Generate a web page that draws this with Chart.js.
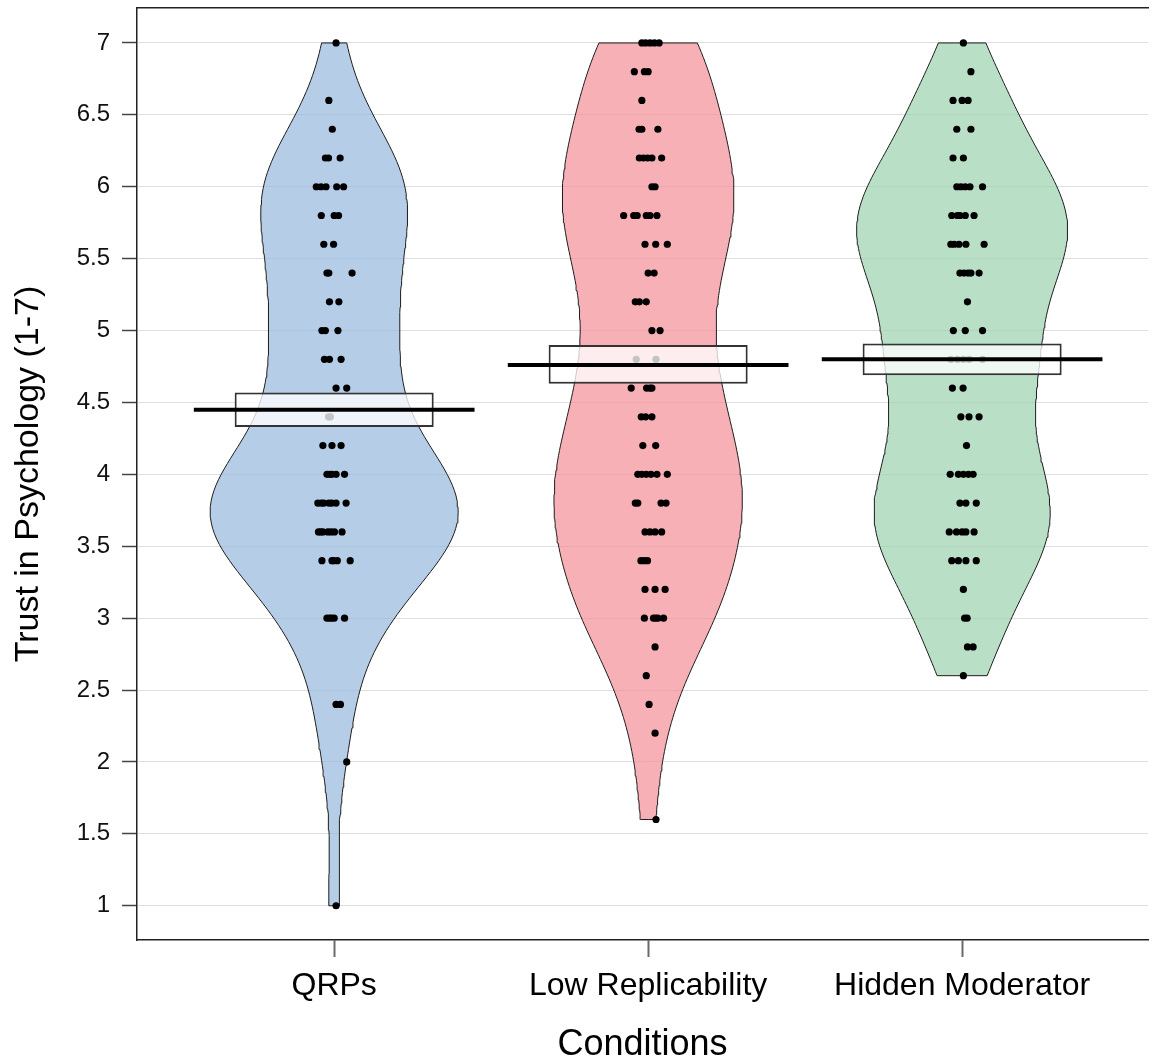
<!DOCTYPE html>
<html>
<head>
<meta charset="utf-8">
<title>Trust in Psychology by Condition</title>
<script src="https://cdn.jsdelivr.net/npm/chart.js@4.4.1/dist/chart.umd.min.js"></script>
<style>
  html, body { margin: 0; padding: 0; background: #ffffff; }
  #c { display: block; }
</style>
</head>
<body>
<canvas id="c" width="1152" height="1061"></canvas>
<script>
// ---- Data -------------------------------------------------------------
const categories = ['QRPs', 'Low Replicability', 'Hidden Moderator'];
const yTickValues = [1, 1.5, 2, 2.5, 3, 3.5, 4, 4.5, 5, 5.5, 6, 6.5, 7];

// Individual trust scores per condition (1-7 scale, steps of 0.2)
const qrpsScores = [
  7.0, 6.6, 6.4, 6.2, 6.2, 6.2, 6.0, 6.0, 6.0, 6.0, 6.0,
  5.8, 5.8, 5.8, 5.6, 5.6, 5.4, 5.4, 5.4, 5.2, 5.2, 5.0, 5.0, 5.0,
  4.8, 4.8, 4.8, 4.6, 4.6, 4.4, 4.4, 4.2, 4.2, 4.2,
  4.0, 4.0, 4.0, 4.0, 4.0,
  3.8, 3.8, 3.8, 3.8, 3.8, 3.8, 3.8,
  3.6, 3.6, 3.6, 3.6, 3.6, 3.6, 3.6,
  3.4, 3.4, 3.4, 3.4, 3.4, 3.0, 3.0, 3.0, 3.0, 3.0, 2.4, 2.4, 2.0, 1.0
];
// Horizontal jitter of each point (x units from the condition centre)
const qrpsJitter = [
  0.006, -0.017, -0.006, -0.028, -0.018, 0.019, -0.057, -0.042, -0.026, 0.008, 0.030,
  -0.041, 0.000, 0.014, -0.033, -0.002, -0.023, -0.017, 0.057, -0.015, 0.015, -0.039, -0.028, 0.012,
  -0.031, -0.015, 0.022, 0.006, 0.040, -0.018, -0.012, -0.036, -0.007, 0.022,
  -0.023, -0.014, -0.007, 0.006, 0.033,
  -0.052, -0.041, -0.033, -0.017, -0.008, 0.006, 0.038,
  -0.050, -0.043, -0.036, -0.020, -0.010, 0.001, 0.025,
  -0.039, -0.007, -0.002, 0.010, 0.051, -0.023, -0.015, -0.008, 0.000, 0.033, 0.006, 0.020, 0.040, 0.006
];

const lowRepScores = [
  7.0, 7.0, 7.0, 7.0, 7.0, 6.8, 6.8, 6.8, 6.6, 6.4, 6.4, 6.4,
  6.2, 6.2, 6.2, 6.2, 6.2, 6.0, 6.0,
  5.8, 5.8, 5.8, 5.8, 5.8, 5.8, 5.6, 5.6, 5.6, 5.4, 5.4, 5.2, 5.2, 5.2, 5.0, 5.0,
  4.8, 4.8, 4.6, 4.6, 4.6, 4.6, 4.4, 4.4, 4.4, 4.2, 4.2,
  4.0, 4.0, 4.0, 4.0, 4.0, 4.0, 3.8, 3.8, 3.8, 3.8, 3.6, 3.6, 3.6, 3.6,
  3.4, 3.4, 3.4, 3.2, 3.2, 3.2, 3.0, 3.0, 3.0, 3.0, 3.0,
  2.8, 2.6, 2.4, 2.2, 1.6
];
const lowRepJitter = [
  -0.020, -0.008, 0.006, 0.020, 0.035, -0.044, -0.012, 0.000, -0.020, -0.029, -0.020, 0.031,
  -0.028, -0.015, -0.002, 0.012, 0.043, 0.012, 0.022,
  -0.078, -0.046, -0.035, -0.006, 0.006, 0.028, -0.010, 0.024, 0.061, 0.000, 0.019, -0.041, -0.028, -0.006, 0.012, 0.038,
  -0.038, 0.025, -0.054, -0.005, 0.006, 0.012, -0.022, -0.008, 0.012, -0.017, 0.024,
  -0.033, -0.020, -0.006, 0.009, 0.028, 0.061, -0.041, -0.033, 0.041, 0.057, -0.010, 0.006, 0.022, 0.043,
  -0.023, -0.012, -0.002, -0.010, 0.022, 0.054, -0.012, 0.017, 0.024, 0.031, 0.049,
  0.022, -0.006, 0.003, 0.022, 0.025
];

const hiddenModScores = [
  7.0, 6.8, 6.6, 6.6, 6.6, 6.4, 6.4, 6.2, 6.2,
  6.0, 6.0, 6.0, 6.0, 6.0, 5.8, 5.8, 5.8, 5.8, 5.8,
  5.6, 5.6, 5.6, 5.6, 5.6, 5.4, 5.4, 5.4, 5.4, 5.4, 5.2, 5.0, 5.0, 5.0,
  4.8, 4.8, 4.8, 4.8, 4.8, 4.6, 4.6, 4.4, 4.4, 4.4, 4.2,
  4.0, 4.0, 4.0, 4.0, 4.0, 3.8, 3.8, 3.8, 3.6, 3.6, 3.6, 3.6, 3.6,
  3.4, 3.4, 3.4, 3.4, 3.2, 3.0, 3.0, 2.8, 2.8, 2.6
];
const hiddenModJitter = [
  0.004, 0.028, -0.029, 0.000, 0.019, -0.017, 0.028, -0.029, 0.004,
  -0.017, -0.004, 0.010, 0.025, 0.065, -0.033, -0.015, -0.007, 0.010, 0.038,
  -0.036, -0.025, -0.010, 0.012, 0.070, -0.007, 0.006, 0.019, 0.028, 0.054, 0.017, -0.028, 0.010, 0.065,
  -0.036, -0.015, 0.004, 0.022, 0.065, -0.031, 0.003, -0.004, 0.022, 0.054, 0.014,
  -0.038, -0.012, 0.004, 0.020, 0.035, -0.007, 0.012, 0.045, -0.041, -0.018, 0.000, 0.012, 0.038,
  -0.033, -0.012, 0.012, 0.045, 0.004, 0.008, 0.016, 0.017, 0.035, 0.004
];

// Condition means and 95% confidence limits
const groupMeans = [4.45, 4.76, 4.80];
const ciLower = [4.33, 4.63, 4.69];
const ciUpper = [4.57, 4.90, 4.91];

// ---- Styling ----------------------------------------------------------
const FONT = "'Liberation Sans', Arial, Helvetica, sans-serif";
const beanFills = ['rgba(151,184,221,0.7)', 'rgba(245,142,152,0.7)', 'rgba(155,211,175,0.7)'];
const WIDTH_MAX = 0.395;   // half-width of the widest bean (x units)
const WIDTH_MIN = 0.30;    // minimum half-width of any bean
const BW_ADJUST = 0.8;     // bandwidth multiplier for the bean densities
const BOX_SHARE = 0.634;   // confidence box width as share of category spacing
const MEAN_HALF = 0.447;   // half-length of the mean line

// ---- Kernel density (Gaussian, bw.nrd0) --------------------------------
function quantile(sorted, p) {
  const h = (sorted.length - 1) * p;
  const lo = Math.floor(h);
  const hi = Math.min(lo + 1, sorted.length - 1);
  return sorted[lo] + (h - lo) * (sorted[hi] - sorted[lo]);
}
function bandwidth(x) {
  const n = x.length;
  const mean = x.reduce((a, b) => a + b, 0) / n;
  const sd = Math.sqrt(x.reduce((a, b) => a + (b - mean) ** 2, 0) / (n - 1));
  const s = [...x].sort((a, b) => a - b);
  const iqr = quantile(s, 0.75) - quantile(s, 0.25);
  const lo = Math.min(sd, iqr / 1.34) || sd || 1;
  return 0.9 * lo * Math.pow(n, -0.2);
}
function density(x, bw, at) {
  const k = 1 / (x.length * bw * Math.sqrt(2 * Math.PI));
  return at.map(y => k * x.reduce((a, v) => a + Math.exp(-0.5 * ((y - v) / bw) ** 2), 0));
}

const groups = [
  { scores: qrpsScores, jitter: qrpsJitter },
  { scores: lowRepScores, jitter: lowRepJitter },
  { scores: hiddenModScores, jitter: hiddenModJitter }
];

const STEPS = 160;
const profiles = groups.map(g => {
  const lo = Math.min(...g.scores);
  const hi = Math.max(...g.scores);
  const ys = [];
  for (let i = 0; i <= STEPS; i++) ys.push(lo + (hi - lo) * i / STEPS);
  return { lo, hi, ys, d: density(g.scores, bandwidth(g.scores) * BW_ADJUST, ys) };
});
const maxDensity = Math.max(...profiles.map(p => Math.max(...p.d)));
profiles.forEach(p => {
  let w = p.d.map(v => v / maxDensity * WIDTH_MAX);
  const m = Math.max(...w);
  if (m < WIDTH_MIN) w = w.map(v => v / m * WIDTH_MIN);
  p.w = w;
});

// ---- Datasets -----------------------------------------------------------
const datasets = [];

profiles.forEach((p, i) => {
  const c = i + 1;
  const side = sign => [{ x: c, y: p.lo }]
    .concat(p.ys.map((y, k) => ({ x: c + sign * p.w[k], y })))
    .concat([{ x: c, y: p.hi }]);
  // left outline of the bean
  datasets.push({
    type: 'line', indexAxis: 'y', data: side(-1),
    borderColor: '#1c1c1c', borderWidth: 1, pointRadius: 0,
    fill: false, tension: 0, order: 5
  });
  // right outline, filled back to the left outline
  datasets.push({
    type: 'line', indexAxis: 'y', data: side(1),
    borderColor: '#1c1c1c', borderWidth: 1, pointRadius: 0,
    fill: '-1', backgroundColor: beanFills[i], tension: 0, order: 6
  });
});

// raw data points
groups.forEach((g, i) => {
  datasets.push({
    type: 'scatter',
    data: g.scores.map((v, k) => ({ x: i + 1 + g.jitter[k], y: v })),
    backgroundColor: '#000000', borderWidth: 0, pointRadius: 3.6,
    order: 3
  });
});

// confidence boxes
datasets.push({
  type: 'bar',
  data: categories.map((_, i) => ({ x: i + 1, y: [ciLower[i], ciUpper[i]] })),
  backgroundColor: 'rgba(255,255,255,0.77)',
  borderColor: '#333333', borderWidth: 2, borderSkipped: false,
  barPercentage: BOX_SHARE, categoryPercentage: 1, grouped: false,
  order: 2
});

// mean lines
groupMeans.forEach((m, i) => {
  datasets.push({
    type: 'line',
    data: [{ x: i + 1 - MEAN_HALF, y: m }, { x: i + 1 + MEAN_HALF, y: m }],
    borderColor: '#000000', borderWidth: 4, pointRadius: 0, fill: false,
    borderCapStyle: 'butt', order: 1
  });
});

// ---- Chart --------------------------------------------------------------
const X_MIN = 0.372, X_MAX = 3.592;

new Chart(document.getElementById('c'), {
  type: 'scatter',
  data: { datasets },
  options: {
    responsive: false,
    animation: false,
    events: [],
    layout: { padding: { top: 8, left: 0, right: 0, bottom: 0 } },
    plugins: {
      legend: { display: false },
      tooltip: { enabled: false },
      filler: { propagate: false }
    },
    scales: {
      x: {
        type: 'linear', position: 'bottom',
        min: X_MIN, max: X_MAX, offset: false,
        afterBuildTicks: s => { s.ticks = categories.map((_, i) => ({ value: i + 1 })); },
        afterFit: s => { s.height = 121; s.paddingLeft = 0; s.paddingRight = 0; },
        ticks: {
          autoSkip: false, maxRotation: 0, padding: 10,
          color: '#000000',
          font: { family: FONT, size: 32 },
          callback: (v, idx) => categories[idx]
        },
        grid: { offset: false, drawOnChartArea: false, tickLength: 17, tickColor: '#6a6a6a', tickWidth: 2 },
        border: { display: true, color: '#222222', width: 1.5 },
        title: {
          display: true, text: 'Conditions', color: '#000000',
          font: { family: FONT, size: 36, lineHeight: 0.9 },
          padding: { top: 0, bottom: 0 }
        }
      },
      xTop: {
        type: 'linear', position: 'top', min: X_MIN, max: X_MAX, offset: false,
        afterFit: s => { s.height = 0; s.paddingLeft = 0; s.paddingRight = 0; },
        ticks: { display: false },
        grid: { offset: false, drawOnChartArea: false, drawTicks: false },
        border: { display: true, color: '#222222', width: 1.5 }
      },
      y: {
        type: 'linear', position: 'left',
        min: 0.762, max: 7.243,
        afterBuildTicks: s => { s.ticks = yTickValues.map(v => ({ value: v })); },
        afterFit: s => { s.width = 137; s.paddingTop = 0; s.paddingBottom = 0; },
        ticks: {
          padding: 12, color: '#111111',
          font: { family: FONT, size: 24 },
          callback: (v, idx) => String(yTickValues[idx])
        },
        grid: { color: '#dedede', lineWidth: 1, tickLength: 15, tickColor: '#444444', tickWidth: 1.5 },
        border: { display: true, color: '#222222', width: 1.5 },
        title: {
          display: true, text: 'Trust in Psychology (1-7)', color: '#000000',
          font: { family: FONT, size: 34, lineHeight: 1 },
          padding: { top: 12, bottom: 0 }
        }
      }
    }
  }
});
</script>
</body>
</html>
